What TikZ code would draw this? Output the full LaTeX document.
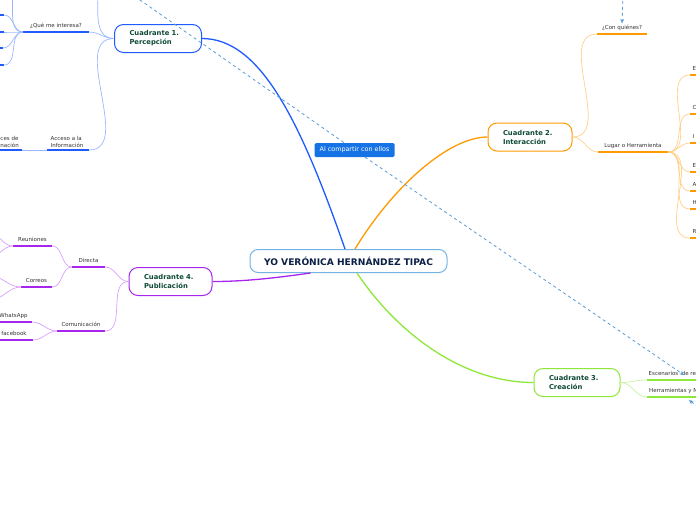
\documentclass[tikz,border=0pt]{standalone}
\usepackage{fontspec}
\setmainfont{DejaVu Sans}
\usetikzlibrary{calc,arrows.meta}
\definecolor{cBlue}{HTML}{1F5BFF}
\definecolor{cBlueL}{HTML}{9BB8FF}
\definecolor{cOr}{HTML}{FF9A00}
\definecolor{cOrL}{HTML}{FFD08A}
\definecolor{cGr}{HTML}{8EE83A}
\definecolor{cGrL}{HTML}{C9F3A2}
\definecolor{cPu}{HTML}{A626EE}
\definecolor{cPuL}{HTML}{D9A2FF}
\definecolor{cTxt}{HTML}{333333}
\definecolor{cNode}{HTML}{0E4A33}
\definecolor{cNavy}{HTML}{0B1F45}
\definecolor{cCenter}{HTML}{74B4E4}
\definecolor{cDash}{HTML}{5B9BD5}
\definecolor{cLabel}{HTML}{1673E6}
\tikzset{
  ul/.style={line width=1.6pt},
  con/.style={line width=0.7pt},
  mainln/.style={line width=1.3pt},
  lbl/.style={font=\fontsize{5.5}{7}\selectfont, text=cTxt, inner sep=0pt},
  qnode/.style={draw, fill=white, rounded corners=9pt, line width=1pt,
    minimum height=28pt, inner xsep=15pt, inner ysep=0pt, align=left,
    text=cNode, font=\bfseries\fontsize{6.8}{9}\selectfont},
  dashln/.style={cDash, line width=0.8pt, dash pattern=on 3pt off 3pt},
  tipped/.style={-{Stealth[length=4.5pt,width=4pt]}}
}
\newcommand\tpc[6]{%
  \coordinate (#1L) at (#2,#4); \coordinate (#1R) at (#3,#4);
  \draw[ul,#5] (#1L) -- (#1R);
  \node[lbl,anchor=base] (#1T) at ($(#1L)!0.5!(#1R)+(0,-4.5)$) {#6};}
\newcommand\stub[5]{%
  \coordinate (#1L) at (#2,#4); \coordinate (#1R) at (#3,#4);
  \draw[ul,#5] (#1L) -- (#1R);}
\newcommand\edgetpc[3]{%
  \coordinate (#1L) at (690,#2); \coordinate (#1R) at (702,#2);
  \draw[ul,cOr] (#1L) -- (#1R);
  \node[lbl,anchor=base west] (#1T) at (692.5,#2-4.5) {#3};}
\begin{document}
\begin{tikzpicture}[x=1pt,y=-1pt]
\useasboundingbox (0,0) rectangle (696,520);
\clip (0,0) rectangle (696,520);
\fill[white] (0,0) rectangle (696,520);

% central and main nodes
\node[draw=cCenter, fill=white, line width=1pt, rounded corners=8pt,
  minimum width=197pt, minimum height=23pt, inner sep=0pt,
  font=\bfseries\fontsize{9.1}{10}\selectfont, text=cNavy] (c) at (348.5,261)
  {YO VERÓNICA HERNÁNDEZ TIPAC};
\node[qnode, draw=cBlue, text width=57pt] (n1) at (158,38.5) {Cuadrante 1.\\Percepción};
\node[qnode, draw=cOr, text width=54pt] (n2) at (530,137) {Cuadrante 2.\\Interacción};
\node[qnode, draw=cGr, text width=56pt] (n3) at (577,382.5) {Cuadrante 3.\\Creación};
\node[qnode, draw=cPu, text width=53pt] (n4) at (170.5,281.5) {Cuadrante 4.\\Publicación};

% main branches
\draw[mainln,cBlue] ([xshift=-3.5pt]c.north) .. controls (300,120) and (260,38.5) .. (n1.east);
\draw[mainln,cOr] ([xshift=6.5pt]c.north) .. controls (392,188) and (448,137) .. (n2.west);
\draw[mainln,cGr] ([xshift=8.5pt]c.south) .. controls (395,330) and (460,382.5) .. (n3.west);
\draw[mainln,cPu] ([xshift=-38pt]c.south) .. controls (275,278) and (245,281.5) .. (n4.east);

% ---- Cuadrante 1 (blue)
\tpc{q1}{23}{89}{32}{cBlue}{¿Qué me interesa?}
\stub{qa}{-8}{4}{15}{cBlue}
\stub{qb}{-8}{4}{32}{cBlue}
\stub{qc}{-8}{3}{48}{cBlue}
\stub{qd}{-8}{4}{65}{cBlue}
\coordinate (quR) at (2,-20);
\coordinate (n1u) at (82,-45);
\coordinate (acL) at (47,150); \coordinate (acR) at (89,150);
\draw[ul,cBlue] (acL) -- (acR);
\node[lbl,anchor=south west,align=left] (acT) at (50.5,147.5) {Acceso a la\\Información};
\coordinate (fuL) at (-5,150); \coordinate (fuR) at (22,150);
\draw[ul,cBlue] (fuL) -- (fuR);
\node[lbl,anchor=south west,align=left] (fuT) at (0.3,147.5) {ces de\\nación};
\draw[con,cBlueL] (n1.west) to[out=180,in=0] (q1R);
\draw[con,cBlueL] (n1.west) to[out=180,in=0] (acR);
\draw[con,cBlueL] (n1.west) to[out=180,in=0] (n1u);
\draw[con,cBlueL] (acL) -- (fuR);
\foreach \k in {qa,qb,qc,qd,qu} \draw[con,cBlueL] (q1L) to[out=180,in=0] (\k R);

% ---- Cuadrante 4 (purple)
\tpc{di}{72}{105}{267}{cPu}{Directa}
\tpc{co}{57}{105}{331}{cPu}{Comunicación}
\tpc{re}{13}{52}{246}{cPu}{Reuniones}
\tpc{cr}{21}{52}{287}{cPu}{Correos}
\tpc{wa}{-5}{32}{322}{cPu}{WhatsApp}
\tpc{fb}{-5}{33}{340}{cPu}{facebook}
\coordinate (r1) at (-12,232); \coordinate (r2) at (-12,258);
\coordinate (c1) at (-10,276); \coordinate (c2) at (-10,300);
\draw[con,cPuL] (n4.west) to[out=180,in=0] (diR);
\draw[con,cPuL] (n4.west) to[out=180,in=0] (coR);
\draw[con,cPuL] (diL) to[out=180,in=0] (reR);
\draw[con,cPuL] (diL) to[out=180,in=0] (crR);
\draw[con,cPuL] (coL) to[out=180,in=0] (waR);
\draw[con,cPuL] (coL) to[out=180,in=0] (fbR);
\draw[con,cPuL] (reL) to[out=180,in=0] (r1);
\draw[con,cPuL] (reL) to[out=180,in=0] (r2);
\draw[con,cPuL] (crL) to[out=180,in=0] (c1);
\draw[con,cPuL] (crL) to[out=180,in=0] (c2);

% ---- Cuadrante 2 (orange)
\tpc{cq}{597}{647}{34}{cOr}{¿Con quiénes?}
\tpc{lu}{598}{668}{152}{cOr}{Lugar o Herramienta}
\edgetpc{ea}{75}{E}
\edgetpc{eb}{114}{C}
\edgetpc{ec}{143}{I}
\edgetpc{ed}{172}{E}
\edgetpc{ee}{191}{A}
\edgetpc{ef}{209}{H}
\edgetpc{eg}{238}{R}
\draw[con,cOrL] (n2.east) to[out=0,in=180] (cqL);
\draw[con,cOrL] (n2.east) to[out=0,in=180] (luL);
\foreach \k in {ea,eb,ec,ed,ee,ef,eg} \draw[con,cOrL] (luR) to[out=0,in=180] (\k L);

% ---- Cuadrante 3 (green)
\coordinate (esL) at (647,380); \coordinate (esR) at (702,380);
\draw[ul,cGr] (esL) -- (esR);
\node[lbl,anchor=base west] (esT) at (648.5,375.5) {Escenarios\ \ de re};
\coordinate (heL) at (647,397); \coordinate (heR) at (702,397);
\draw[ul,cGr] (heL) -- (heR);
\node[lbl,anchor=base west] (heT) at (649,392.5) {Herramientas y N};
\draw[con,cGrL] (n3.east) to[out=0,in=180] (esL);
\draw[con,cGrL] (n3.east) to[out=0,in=180] (heL);

% ---- dashed relations
\node[fill=cLabel, text=white, rounded corners=1.5pt, minimum width=80pt,
  minimum height=14pt, inner sep=0pt, font=\fontsize{6.4}{7}\selectfont] (lab) at (354.5,150)
  {Al compartir con ellos};
\coordinate (dS) at (120,-14);
\coordinate (dE) at (684,375);
\draw[dashln] (dS) -- (lab);
\draw[dashln,tipped] (lab) -- (dE);
\coordinate (tS) at (623,-5);
\draw[dashln,tipped,shorten >=1.5pt] (tS) -- (cqT.north);
\coordinate (bS) at (703,411);
\coordinate (bE) at (689,400);
\draw[dashln,tipped] (bS) -- (bE);
\end{tikzpicture}
\end{document}
